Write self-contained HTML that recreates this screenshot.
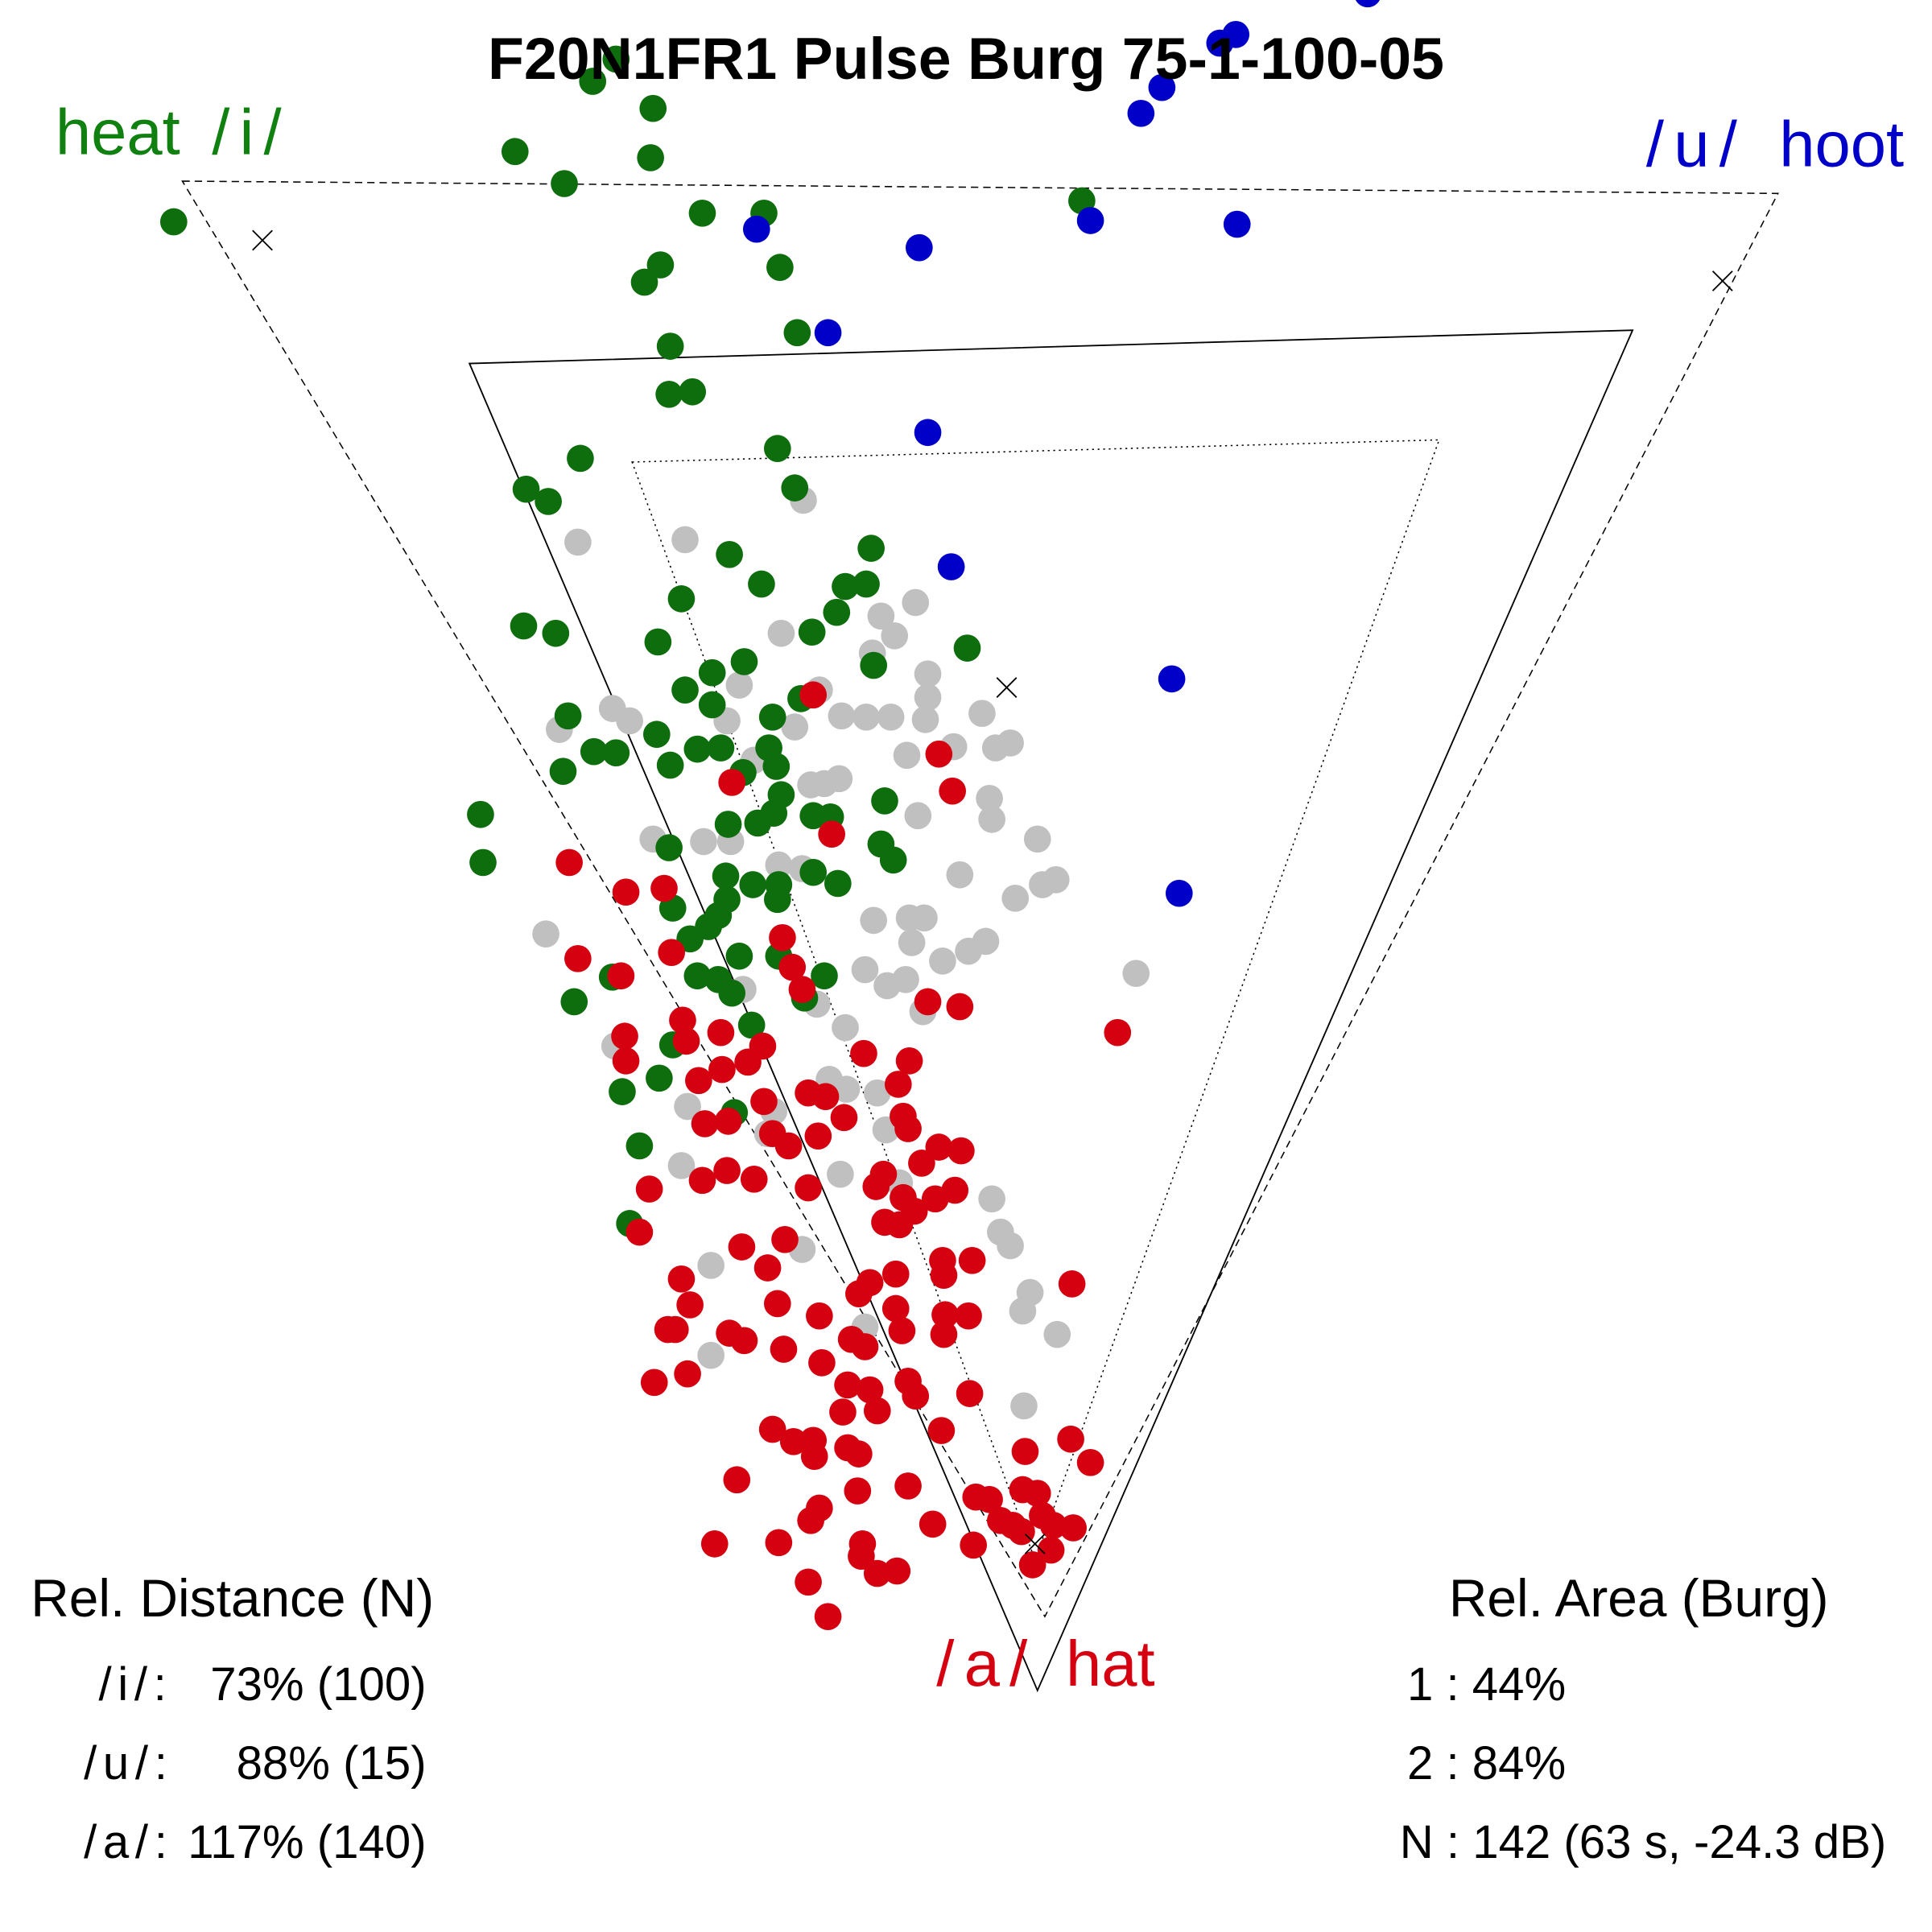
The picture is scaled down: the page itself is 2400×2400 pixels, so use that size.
<!DOCTYPE html>
<html><head><meta charset="utf-8"><style>html,body{margin:0;padding:0;background:#fff}svg{display:block}</style></head>
<body>
<svg width="2400" height="2400" viewBox="0 0 1568 1568" xmlns="http://www.w3.org/2000/svg" font-family="Liberation Sans, sans-serif">
<rect width="1568" height="1568" fill="#fff"/>
<polygon points="148,147 1443,157 848,1312" fill="none" stroke="#000" stroke-width="1" stroke-dasharray="6,4"/>
<polygon points="381,295 1325,268 842,1372" fill="none" stroke="#000" stroke-width="1.2"/>
<polygon points="513,375 1168,357 840,1266" fill="none" stroke="#000" stroke-width="1" stroke-dasharray="1.5,3"/>
<g fill="#c0c0c0">
<circle cx="652" cy="406" r="11"/><circle cx="469" cy="440" r="11"/><circle cx="556" cy="438" r="11"/><circle cx="743" cy="489" r="11"/><circle cx="715" cy="500" r="11"/><circle cx="726" cy="516" r="11"/><circle cx="634" cy="514" r="11"/><circle cx="708" cy="530" r="11"/><circle cx="753" cy="547" r="11"/><circle cx="753" cy="566" r="11"/><circle cx="665" cy="560" r="11"/><circle cx="600" cy="556" r="11"/><circle cx="497" cy="575" r="11"/><circle cx="511" cy="585" r="11"/><circle cx="454" cy="592" r="11"/><circle cx="590" cy="585" r="11"/><circle cx="645" cy="590" r="11"/><circle cx="683" cy="581" r="11"/><circle cx="703" cy="582" r="11"/><circle cx="723" cy="582" r="11"/><circle cx="751" cy="584" r="11"/><circle cx="797" cy="579" r="11"/><circle cx="820" cy="603" r="11"/><circle cx="808" cy="607" r="11"/><circle cx="774" cy="606" r="11"/><circle cx="736" cy="613" r="11"/><circle cx="612" cy="617" r="11"/><circle cx="658" cy="637" r="11"/><circle cx="669" cy="636" r="11"/><circle cx="681" cy="632" r="11"/><circle cx="803" cy="648" r="11"/><circle cx="805" cy="665" r="11"/><circle cx="745" cy="662" r="11"/><circle cx="530" cy="681" r="11"/><circle cx="571" cy="683" r="11"/><circle cx="593" cy="683" r="11"/><circle cx="842" cy="681" r="11"/><circle cx="779" cy="710" r="11"/><circle cx="857" cy="714" r="11"/><circle cx="846" cy="718" r="11"/><circle cx="824" cy="729" r="11"/><circle cx="632" cy="702" r="11"/><circle cx="651" cy="705" r="11"/><circle cx="709" cy="747" r="11"/><circle cx="738" cy="745" r="11"/><circle cx="750" cy="745" r="11"/><circle cx="740" cy="765" r="11"/><circle cx="765" cy="780" r="11"/><circle cx="786" cy="772" r="11"/><circle cx="800" cy="764" r="11"/><circle cx="922" cy="790" r="11"/><circle cx="443" cy="758" r="11"/><circle cx="702" cy="787" r="11"/><circle cx="720" cy="800" r="11"/><circle cx="735" cy="795" r="11"/><circle cx="749" cy="821" r="11"/><circle cx="663" cy="815" r="11"/><circle cx="686" cy="834" r="11"/><circle cx="603" cy="803" r="11"/><circle cx="499" cy="849" r="11"/><circle cx="673" cy="876" r="11"/><circle cx="687" cy="884" r="11"/><circle cx="712" cy="887" r="11"/><circle cx="558" cy="898" r="11"/><circle cx="628" cy="902" r="11"/><circle cx="623" cy="920" r="11"/><circle cx="553" cy="946" r="11"/><circle cx="682" cy="953" r="11"/><circle cx="805" cy="973" r="11"/><circle cx="812" cy="1000" r="11"/><circle cx="820" cy="1011" r="11"/><circle cx="577" cy="1027" r="11"/><circle cx="651" cy="1014" r="11"/><circle cx="702" cy="1077" r="11"/><circle cx="836" cy="1049" r="11"/><circle cx="830" cy="1064" r="11"/><circle cx="858" cy="1083" r="11"/><circle cx="577" cy="1100" r="11"/><circle cx="831" cy="1141" r="11"/><circle cx="719" cy="917" r="11"/><circle cx="730" cy="960" r="11"/>
</g>
<g fill="#0e6e0e">
<circle cx="500" cy="48" r="11"/><circle cx="481" cy="66" r="11"/><circle cx="530" cy="88" r="11"/><circle cx="418" cy="123" r="11"/><circle cx="528" cy="128" r="11"/><circle cx="458" cy="149" r="11"/><circle cx="141" cy="180" r="11"/><circle cx="570" cy="173" r="11"/><circle cx="620" cy="173" r="11"/><circle cx="878" cy="163" r="11"/><circle cx="536" cy="215" r="11"/><circle cx="523" cy="229" r="11"/><circle cx="633" cy="217" r="11"/><circle cx="647" cy="270" r="11"/><circle cx="544" cy="281" r="11"/><circle cx="543" cy="320" r="11"/><circle cx="562" cy="318" r="11"/><circle cx="471" cy="372" r="11"/><circle cx="631" cy="364" r="11"/><circle cx="427" cy="397" r="11"/><circle cx="445" cy="407" r="11"/><circle cx="645" cy="396" r="11"/><circle cx="592" cy="450" r="11"/><circle cx="707" cy="445" r="11"/><circle cx="618" cy="474" r="11"/><circle cx="686" cy="476" r="11"/><circle cx="703" cy="474" r="11"/><circle cx="553" cy="486" r="11"/><circle cx="679" cy="497" r="11"/><circle cx="425" cy="508" r="11"/><circle cx="451" cy="514" r="11"/><circle cx="659" cy="513" r="11"/><circle cx="534" cy="521" r="11"/><circle cx="785" cy="526" r="11"/><circle cx="604" cy="537" r="11"/><circle cx="709" cy="540" r="11"/><circle cx="578" cy="546" r="11"/><circle cx="556" cy="560" r="11"/><circle cx="578" cy="572" r="11"/><circle cx="650" cy="567" r="11"/><circle cx="461" cy="581" r="11"/><circle cx="627" cy="582" r="11"/><circle cx="533" cy="596" r="11"/><circle cx="482" cy="610" r="11"/><circle cx="500" cy="611" r="11"/><circle cx="566" cy="608" r="11"/><circle cx="585" cy="607" r="11"/><circle cx="624" cy="607" r="11"/><circle cx="457" cy="626" r="11"/><circle cx="544" cy="621" r="11"/><circle cx="603" cy="627" r="11"/><circle cx="630" cy="622" r="11"/><circle cx="634" cy="645" r="11"/><circle cx="718" cy="650" r="11"/><circle cx="390" cy="661" r="11"/><circle cx="660" cy="662" r="11"/><circle cx="674" cy="663" r="11"/><circle cx="628" cy="660" r="11"/><circle cx="591" cy="669" r="11"/><circle cx="615" cy="668" r="11"/><circle cx="392" cy="700" r="11"/><circle cx="543" cy="688" r="11"/><circle cx="715" cy="685" r="11"/><circle cx="725" cy="698" r="11"/><circle cx="589" cy="711" r="11"/><circle cx="611" cy="718" r="11"/><circle cx="632" cy="718" r="11"/><circle cx="660" cy="708" r="11"/><circle cx="680" cy="717" r="11"/><circle cx="631" cy="730" r="11"/><circle cx="590" cy="730" r="11"/><circle cx="546" cy="737" r="11"/><circle cx="583" cy="743" r="11"/><circle cx="575" cy="752" r="11"/><circle cx="560" cy="762" r="11"/><circle cx="600" cy="776" r="11"/><circle cx="632" cy="776" r="11"/><circle cx="497" cy="793" r="11"/><circle cx="566" cy="792" r="11"/><circle cx="583" cy="795" r="11"/><circle cx="594" cy="806" r="11"/><circle cx="653" cy="810" r="11"/><circle cx="669" cy="792" r="11"/><circle cx="466" cy="813" r="11"/><circle cx="610" cy="832" r="11"/><circle cx="546" cy="848" r="11"/><circle cx="535" cy="875" r="11"/><circle cx="505" cy="886" r="11"/><circle cx="596" cy="903" r="11"/><circle cx="519" cy="930" r="11"/><circle cx="511" cy="993" r="11"/>
</g>
<g fill="#0000c8">
<circle cx="1110" cy="-5" r="11"/><circle cx="1003" cy="28" r="11"/><circle cx="990" cy="35" r="11"/><circle cx="943" cy="71" r="11"/><circle cx="926" cy="92" r="11"/><circle cx="614" cy="186" r="11"/><circle cx="746" cy="201" r="11"/><circle cx="885" cy="179" r="11"/><circle cx="1004" cy="182" r="11"/><circle cx="672" cy="270" r="11"/><circle cx="753" cy="351" r="11"/><circle cx="772" cy="460" r="11"/><circle cx="951" cy="551" r="11"/><circle cx="957" cy="725" r="11"/>
</g>
<g fill="#d50010">
<circle cx="660" cy="564" r="11"/><circle cx="762" cy="612" r="11"/><circle cx="594" cy="635" r="11"/><circle cx="773" cy="642" r="11"/><circle cx="675" cy="677" r="11"/><circle cx="462" cy="700" r="11"/><circle cx="508" cy="724" r="11"/><circle cx="539" cy="721" r="11"/><circle cx="469" cy="778" r="11"/><circle cx="545" cy="773" r="11"/><circle cx="635" cy="761" r="11"/><circle cx="643" cy="785" r="11"/><circle cx="651" cy="803" r="11"/><circle cx="504" cy="792" r="11"/><circle cx="753" cy="813" r="11"/><circle cx="779" cy="817" r="11"/><circle cx="907" cy="838" r="11"/><circle cx="554" cy="828" r="11"/><circle cx="585" cy="838" r="11"/><circle cx="507" cy="841" r="11"/><circle cx="557" cy="845" r="11"/><circle cx="619" cy="849" r="11"/><circle cx="508" cy="861" r="11"/><circle cx="701" cy="855" r="11"/><circle cx="738" cy="861" r="11"/><circle cx="586" cy="868" r="11"/><circle cx="607" cy="862" r="11"/><circle cx="567" cy="877" r="11"/><circle cx="729" cy="880" r="11"/><circle cx="656" cy="887" r="11"/><circle cx="670" cy="890" r="11"/><circle cx="620" cy="894" r="11"/><circle cx="685" cy="907" r="11"/><circle cx="733" cy="906" r="11"/><circle cx="737" cy="916" r="11"/><circle cx="572" cy="912" r="11"/><circle cx="591" cy="910" r="11"/><circle cx="627" cy="920" r="11"/><circle cx="664" cy="922" r="11"/><circle cx="640" cy="930" r="11"/><circle cx="762" cy="931" r="11"/><circle cx="780" cy="934" r="11"/><circle cx="748" cy="944" r="11"/><circle cx="717" cy="953" r="11"/><circle cx="590" cy="950" r="11"/><circle cx="570" cy="958" r="11"/><circle cx="612" cy="957" r="11"/><circle cx="527" cy="965" r="11"/><circle cx="711" cy="963" r="11"/><circle cx="656" cy="964" r="11"/><circle cx="775" cy="966" r="11"/><circle cx="733" cy="972" r="11"/><circle cx="759" cy="973" r="11"/><circle cx="742" cy="983" r="11"/><circle cx="718" cy="992" r="11"/><circle cx="730" cy="994" r="11"/><circle cx="519" cy="1000" r="11"/><circle cx="637" cy="1006" r="11"/><circle cx="602" cy="1012" r="11"/><circle cx="623" cy="1029" r="11"/><circle cx="765" cy="1023" r="11"/><circle cx="789" cy="1023" r="11"/><circle cx="553" cy="1038" r="11"/><circle cx="766" cy="1035" r="11"/><circle cx="727" cy="1034" r="11"/><circle cx="706" cy="1041" r="11"/><circle cx="697" cy="1050" r="11"/><circle cx="870" cy="1042" r="11"/><circle cx="631" cy="1058" r="11"/><circle cx="560" cy="1059" r="11"/><circle cx="665" cy="1068" r="11"/><circle cx="727" cy="1062" r="11"/><circle cx="767" cy="1067" r="11"/><circle cx="786" cy="1068" r="11"/><circle cx="548" cy="1079" r="11"/><circle cx="542" cy="1079" r="11"/><circle cx="592" cy="1082" r="11"/><circle cx="604" cy="1088" r="11"/><circle cx="636" cy="1095" r="11"/><circle cx="691" cy="1087" r="11"/><circle cx="702" cy="1093" r="11"/><circle cx="732" cy="1080" r="11"/><circle cx="766" cy="1083" r="11"/><circle cx="667" cy="1106" r="11"/><circle cx="531" cy="1122" r="11"/><circle cx="558" cy="1115" r="11"/><circle cx="688" cy="1124" r="11"/><circle cx="706" cy="1128" r="11"/><circle cx="737" cy="1121" r="11"/><circle cx="743" cy="1133" r="11"/><circle cx="787" cy="1131" r="11"/><circle cx="712" cy="1145" r="11"/><circle cx="684" cy="1146" r="11"/><circle cx="627" cy="1160" r="11"/><circle cx="644" cy="1170" r="11"/><circle cx="660" cy="1169" r="11"/><circle cx="661" cy="1182" r="11"/><circle cx="688" cy="1175" r="11"/><circle cx="697" cy="1180" r="11"/><circle cx="764" cy="1161" r="11"/><circle cx="832" cy="1178" r="11"/><circle cx="869" cy="1168" r="11"/><circle cx="885" cy="1187" r="11"/><circle cx="598" cy="1201" r="11"/><circle cx="696" cy="1210" r="11"/><circle cx="737" cy="1206" r="11"/><circle cx="792" cy="1215" r="11"/><circle cx="803" cy="1217" r="11"/><circle cx="830" cy="1209" r="11"/><circle cx="842" cy="1212" r="11"/><circle cx="665" cy="1224" r="11"/><circle cx="658" cy="1234" r="11"/><circle cx="757" cy="1237" r="11"/><circle cx="822" cy="1238" r="11"/><circle cx="846" cy="1230" r="11"/><circle cx="855" cy="1238" r="11"/><circle cx="871" cy="1240" r="11"/><circle cx="829" cy="1243" r="11"/><circle cx="812" cy="1234" r="11"/><circle cx="580" cy="1253" r="11"/><circle cx="632" cy="1252" r="11"/><circle cx="700" cy="1253" r="11"/><circle cx="790" cy="1254" r="11"/><circle cx="853" cy="1258" r="11"/><circle cx="838" cy="1270" r="11"/><circle cx="699" cy="1263" r="11"/><circle cx="712" cy="1277" r="11"/><circle cx="728" cy="1275" r="11"/><circle cx="656" cy="1284" r="11"/><circle cx="672" cy="1312" r="11"/>
</g>
<g stroke="#000" stroke-width="1.2">
<path d="M205,187 l16,16 M221,187 l-16,16"/>
<path d="M1390,220 l16,16 M1406,220 l-16,16"/>
<path d="M809,550 l16,16 M825,550 l-16,16"/>
<path d="M832,1245 l16,16 M848,1245 l-16,16"/>
</g>
<text x="784" y="64" font-size="48" font-weight="bold" text-anchor="middle">F20N1FR1 Pulse Burg 75-1-100-05</text>
<text x="45" y="125" font-size="52" fill="#108010">heat <tspan x="172" letter-spacing="8">/i/</tspan></text>
<text y="135" font-size="52" fill="#0000c8"><tspan x="1336" letter-spacing="8">/u/</tspan><tspan x="1444">hoot</tspan></text>
<text y="1368" font-size="52" fill="#d50010"><tspan x="760" letter-spacing="8">/a/</tspan><tspan x="865">hat</tspan></text>
<g font-size="38">
<text x="25" y="1312" font-size="43">Rel. Distance (N)</text>
<text x="80" y="1380" letter-spacing="5">/i/:</text>
<text x="346" y="1380" text-anchor="end">73% (100)</text>
<text x="68" y="1444" letter-spacing="5">/u/:</text>
<text x="346" y="1444" text-anchor="end">88% (15)</text>
<text x="68" y="1508" letter-spacing="5">/a/:</text>
<text x="346" y="1508" text-anchor="end">117% (140)</text>
<text x="1330" y="1312" font-size="43" text-anchor="middle">Rel. Area (Burg)</text>
<text x="1142" y="1380">1 : 44%</text>
<text x="1142" y="1444">2 : 84%</text>
<text x="1136" y="1508">N : 142 (63 s, -24.3 dB)</text>
</g>
</svg>
</body></html>
